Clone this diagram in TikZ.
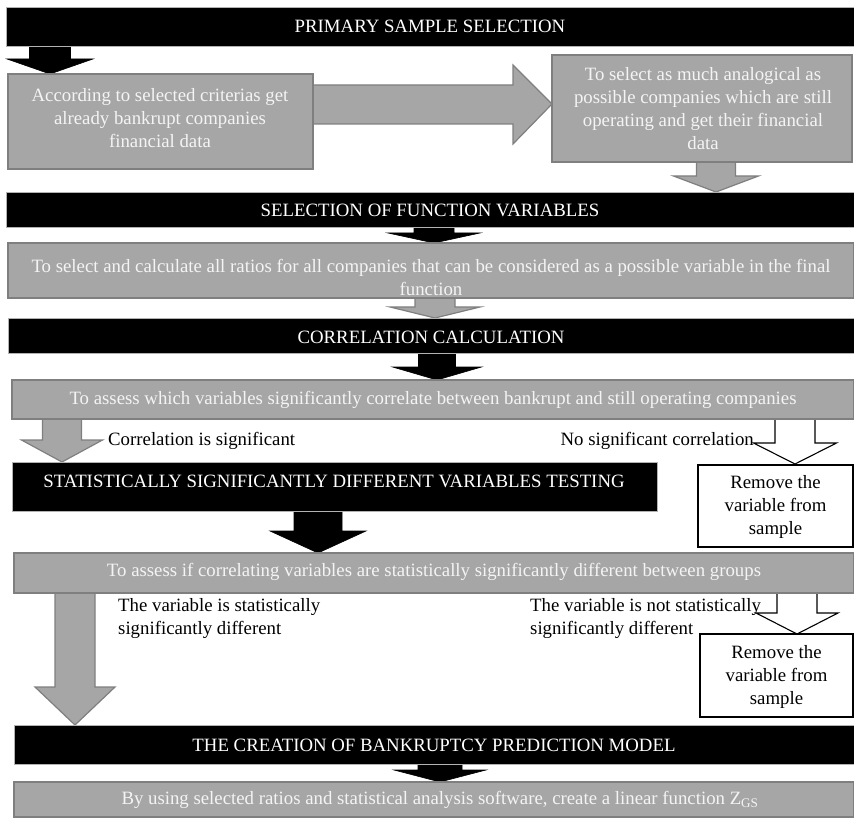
\documentclass[tikz,border=0pt]{standalone}
\usepackage{fontspec}
\setmainfont{Liberation Serif}
\definecolor{boxgray}{HTML}{A6A6A6}
\definecolor{edgegray}{HTML}{7F7F7F}
\definecolor{txtwhite}{HTML}{F4F4F4}
\newcommand{\blockdown}[7]{%
  \draw[#1] (#2-#6,#3) -- (#2+#6,#3) -- (#2+#6,#4) -- (#2+#7,#4) -- (#2,#5)
    -- (#2-#7,#4) -- (#2-#6,#4) -- cycle;}
\begin{document}
\begin{tikzpicture}[x=1pt,y=-1pt,
  every node/.style={font=\fontsize{18.8}{23}\selectfont, inner sep=0pt},
  barbox/.style={fill=black, draw=gray!60, line width=0.6pt},
  graybox/.style={fill=boxgray, draw=edgegray, line width=1.3pt},
  whitebox/.style={fill=white, draw=black, line width=1.1pt},
  bartext/.style={text=white},
  graytext/.style={text=txtwhite, align=center},
  plaintext/.style={text=black},
  blackarrow/.style={fill=black, draw=black, line width=0.6pt, line join=miter},
  grayarrow/.style={fill=boxgray, draw=edgegray, line width=1.2pt, line join=miter},
  whitearrow/.style={fill=white, draw=black, line width=1.1pt, line join=miter}]
\useasboundingbox (0,0) rectangle (854,818);

% ---------- block arrows ----------
\blockdown{blackarrow}{50}{46}{59}{74}{20.5}{43}
\draw[grayarrow] (313,85) -- (513,85) -- (513,65) -- (552,104) -- (513,144) -- (513,124) -- (313,124) -- cycle;
\blockdown{grayarrow}{716}{162}{176}{192}{19.5}{42.5}
\blockdown{blackarrow}{434}{227}{233}{243}{20}{46}
\blockdown{grayarrow}{435}{298}{307}{318}{20}{45}
\blockdown{blackarrow}{437}{353}{367}{380}{18.5}{44.5}
\blockdown{grayarrow}{62}{419}{440}{462}{19.5}{40.5}
\blockdown{whitearrow}{795}{419}{443}{464}{20}{41.5}
\blockdown{blackarrow}{318}{511}{531}{553}{24}{48}
\blockdown{grayarrow}{75}{593}{687}{725}{20}{40}
\blockdown{whitearrow}{797}{593}{613}{634}{20}{41}
\blockdown{blackarrow}{440}{764}{770}{782}{22}{46}

% ---------- boxes ----------
\node[barbox, minimum width=848pt, minimum height=39pt] (bar1) at (430,26.5) {};
\node[graybox, minimum width=305pt, minimum height=95pt] (left1) at (160.5,121.5) {};
\node[graybox, minimum width=300pt, minimum height=107pt] (right1) at (702,108.5) {};
\node[barbox, minimum width=848pt, minimum height=35pt] (bar2) at (430,209.5) {};
\node[graybox, minimum width=846pt, minimum height=55pt] (gbox2) at (431,270.5) {};
\node[barbox, minimum width=846pt, minimum height=35pt] (bar3) at (431,335.5) {};
\node[graybox, minimum width=842pt, minimum height=39pt] (gbox3) at (433,399.5) {};
\node[barbox, minimum width=645pt, minimum height=49pt] (bar4) at (334.5,486.5) {};
\node[whitebox, minimum width=155pt, minimum height=82pt] (rem1) at (775.5,506) {};
\node[graybox, minimum width=840pt, minimum height=40pt] (gbox4) at (434,573) {};
\node[whitebox, minimum width=153pt, minimum height=83pt] (rem2) at (776.5,675.5) {};
\node[barbox, minimum width=840pt, minimum height=39pt] (bar5) at (434,744.5) {};
\node[graybox, minimum width=840pt, minimum height=35pt] (gbox5) at (434,799.5) {};

% ---------- texts ----------
\node[bartext] (t1) at (430,26) {PRIMARY SAMPLE SELECTION};
\node[graytext] (t2) at (160,118) {According to selected criterias get\\already bankrupt companies\\financial data};
\node[graytext] (t3) at (703,109) {To select as much analogical as\\possible companies which are still\\operating and get their financial\\data};
\node[bartext] (t4) at (430,210) {SELECTION OF FUNCTION VARIABLES};
\begin{scope}
  \clip (gbox2.south west) rectangle (gbox2.north east);
  \node[graytext] (t5) at (431,277.5) {To select and calculate all ratios for all companies that can be considered as a possible variable in the final\\function};
\end{scope}
\draw[graybox, fill=none] (gbox2.south west) rectangle (gbox2.north east);
\node[bartext] (t6) at (431,337) {CORRELATION CALCULATION};
\node[graytext] (t7) at (433,400) {To assess which variables significantly correlate between bankrupt and still operating companies};
\node[plaintext, anchor=west] (t8) at (108,441) {Correlation is significant};
\node[plaintext, anchor=east] (t9) at (754,441) {No significant correlation};
\node[bartext] (t10) at (334,481) {STATISTICALLY SIGNIFICANTLY DIFFERENT VARIABLES TESTING};
\node[plaintext, align=center] (t11) at (775.5,507) {Remove the\\variable from\\sample};
\node[graytext] (t12) at (434,572) {To assess if correlating variables are statistically significantly different between groups};
\node[plaintext, align=left, anchor=west] (t13) at (118,619) {The variable is statistically\\significantly different};
\node[plaintext, align=left, anchor=west] (t14) at (530,619) {The variable is not statistically\\significantly different};
\node[plaintext, align=center] (t15) at (776.5,677) {Remove the\\variable from\\sample};
\node[bartext] (t16) at (434,745) {THE CREATION OF BANKRUPTCY PREDICTION MODEL};
\node[graytext] (t17) at (440,800) {By using selected ratios and statistical analysis software, create a linear function Z\textsubscript{GS}};
\end{tikzpicture}
\end{document}
